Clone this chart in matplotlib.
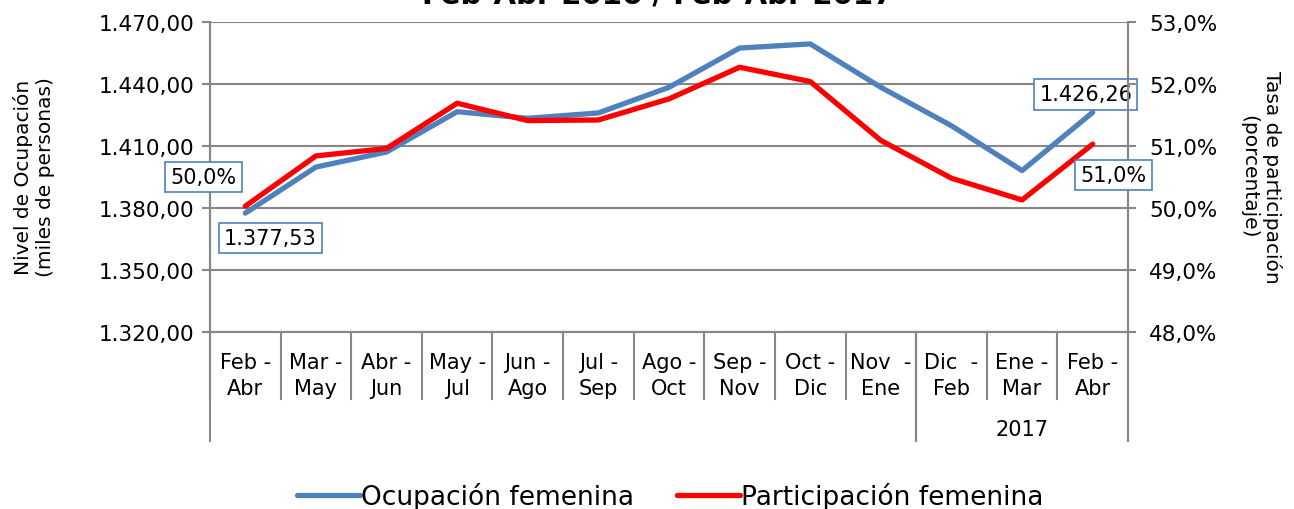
import matplotlib
matplotlib.use("Agg")
import matplotlib.pyplot as plt
from matplotlib.ticker import FuncFormatter, MultipleLocator
import matplotlib.transforms as mtransforms

categories = ["Feb -\nAbr", "Mar -\nMay", "Abr -\nJun", "May -\nJul", "Jun -\nAgo", "Jul -\nSep",
              "Ago -\nOct", "Sep -\nNov", "Oct -\nDic", "Nov  -\nEne", "Dic  -\nFeb", "Ene -\nMar", "Feb -\nAbr"]
groups = ["", "2017"]
group_sizes = [10, 3]
ocupacion = [1377.53, 1399.8, 1407.1, 1426.6, 1423.4, 1426.0, 1438.4, 1457.4, 1459.4, 1438.4, 1419.8, 1398.1, 1426.26]
participacion = [50.03, 50.84, 50.96, 51.69, 51.41, 51.42, 51.76, 52.27, 52.04, 51.09, 50.48, 50.13, 51.03]
title = "Feb-Abr 2016 / Feb-Abr 2017"

BLUE = "#4f81bd"
RED = "#ff0000"
GRAY = "#878787"
FONT = "DejaVu Sans"

plt.rcParams["font.family"] = [FONT]

fig = plt.figure(figsize=(12.94, 5.10), dpi=100)
ax = fig.add_axes([210/1294, 1-333/510, 918/1294, 310/510])
ax2 = ax.twinx()

x = list(range(len(categories)))
l1, = ax.plot(x, ocupacion, color=BLUE, lw=3.8, solid_capstyle="round", label="Ocupación femenina", zorder=3)
l2, = ax2.plot(x, participacion, color=RED, lw=3.8, solid_capstyle="round", label="Participación femenina", zorder=3)

ax.set_xlim(-0.5, len(categories) - 0.5)
ax.set_ylim(1320, 1470)
ax2.set_ylim(48, 53)
ax.yaxis.set_major_locator(MultipleLocator(30))
ax2.yaxis.set_major_locator(MultipleLocator(1))

def fmt_left(v, pos):
    s = f"{v:,.2f}"
    return s.replace(",", "X").replace(".", ",").replace("X", ".")
def fmt_right(v, pos):
    return f"{v:.1f}%".replace(".", ",")
ax.yaxis.set_major_formatter(FuncFormatter(fmt_left))
ax2.yaxis.set_major_formatter(FuncFormatter(fmt_right))

ax.grid(axis="y", color=GRAY, lw=1.5)
ax.set_axisbelow(True)
for a in (ax, ax2):
    a.spines["top"].set_visible(False)
    for s in ("left", "right", "bottom"):
        a.spines[s].set_color(GRAY)
        a.spines[s].set_linewidth(1.5)
    a.tick_params(axis="y", colors=GRAY, labelcolor="black", labelsize=15.5, length=6, width=1.5)
ax.tick_params(axis="y", pad=5)
ax2.tick_params(axis="y", pad=9)
ax.set_xticks([])
ax2.set_xticks([])

trans = mtransforms.blended_transform_factory(ax.transData, ax.transAxes)
for i, c in enumerate(categories):
    ax.text(i, -0.139, c, transform=trans, ha="center", va="center", fontsize=15, linespacing=1.4)
# separators
for i in range(len(categories) + 1):
    xb = i - 0.5
    ax.plot([xb, xb], [0, -0.216], transform=trans, color=GRAY, lw=1.5, clip_on=False)
start = -0.5
for g, n in zip(groups, group_sizes):
    end = start + n
    ax.plot([start, start], [0, -0.352], transform=trans, color=GRAY, lw=1.5, clip_on=False)
    ax.plot([end, end], [0, -0.352], transform=trans, color=GRAY, lw=1.5, clip_on=False)
    if g:
        ax.text((start + end) / 2, -0.313, g, transform=trans, ha="center", va="center", fontsize=15)
    start = end

bbox = dict(boxstyle="square,pad=0.25", fc="white", ec=BLUE, lw=1.2)
ax.annotate(fmt_left(ocupacion[0], None), (0, ocupacion[0]), xytext=(25, -25), textcoords="offset pixels",
            ha="center", va="center", fontsize=15, bbox=bbox, annotation_clip=False, zorder=5)
ax.annotate(fmt_left(ocupacion[-1], None), (len(x)-1, ocupacion[-1]), xytext=(-7, 18), textcoords="offset pixels",
            ha="center", va="center", fontsize=15, bbox=bbox, annotation_clip=False, zorder=5)
ax2.annotate(fmt_right(round(participacion[0], 1), None), (0, participacion[0]), xytext=(-42, 29), textcoords="offset pixels",
             ha="center", va="center", fontsize=15, bbox=bbox, annotation_clip=False, zorder=5)
ax2.annotate(fmt_right(round(participacion[-1], 1), None), (len(x)-1, participacion[-1]), xytext=(21, -31), textcoords="offset pixels",
             ha="center", va="center", fontsize=15, bbox=bbox, annotation_clip=False, zorder=5)

fig.text(34/1294, 1 - 177/510, "Nivel de Ocupación\n(miles de personas)", rotation=90,
         ha="center", va="center", fontsize=14.5, linespacing=1.25)
fig.text(1261/1294, 1 - 177/510, "Tasa de participación\n(porcentaje)", rotation=-90,
         ha="center", va="center", fontsize=14.5, linespacing=1.25)

fig.text(0.508, 1 - 4/510, title, ha="center", va="baseline", fontsize=21, fontweight="bold")

fig.legend([l1, l2], ["Ocupación femenina", "Participación femenina"], loc="center",
           bbox_to_anchor=(0.518, 1 - 497/510), ncol=2, frameon=False, fontsize=19,
           handlelength=2.4, handletextpad=0.05, columnspacing=1.6)

fig.savefig("out.png", dpi=100)
